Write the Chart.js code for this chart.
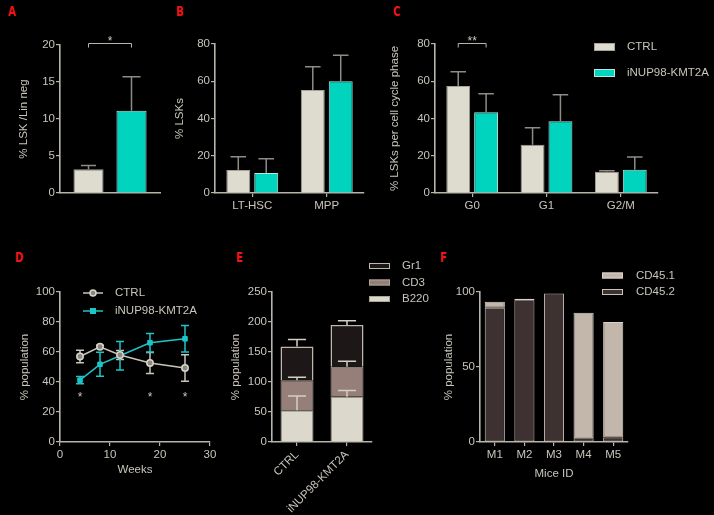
<!DOCTYPE html>
<html>
<head>
<meta charset="utf-8">
<script src="https://cdn.jsdelivr.net/npm/chart.js@4"></script>
<style>
  html, body { margin: 0; padding: 0; background: #000; }
  #fig { position: relative; width: 714px; height: 515px; background: #000; overflow: hidden; }
  #fig canvas { position: absolute; }
  .tag { position: absolute; color: #f01414; font: bold 14px "DejaVu Sans", sans-serif; line-height: 14px; transform: scaleX(0.72); transform-origin: left top; }
</style>
</head>
<body>
<div id="fig">
  <div class="tag" style="left:8px;top:4px">A</div>
  <div class="tag" style="left:176px;top:4px">B</div>
  <div class="tag" style="left:393px;top:4px">C</div>
  <div class="tag" style="left:15px;top:250px">D</div>
  <div class="tag" style="left:236px;top:250px">E</div>
  <div class="tag" style="left:440px;top:250px">F</div>
</div>
<script>
// A: LSK in Lin neg
const aGroups = ['CTRL', 'iNUP98-KMT2A'];
const aValues = [3.2, 11.1];
const aErrors = [0.5, 4.6];

// B: LSK subsets
const bSubsets = ['LT-HSC', 'MPP'];
const bCtrl = [12.3, 55.3];
const bCtrlErr = [7.2, 12.5];
const bNup = [10.7, 60.0];
const bNupErr = [7.7, 13.9];

// C: cell cycle
const cPhases = ['G0', 'G1', 'G2/M'];
const cCtrl = [57.4, 25.9, 11.4];
const cCtrlErr = [7.7, 9.2, 0.6];
const cNup = [43.3, 38.5, 12.5];
const cNupErr = [10.0, 14.3, 6.8];

// D: time course
const dWeeks = [4, 8, 12, 18, 25];
const dCtrl = [57.0, 63.5, 58.0, 52.7, 49.3];
const dCtrlErr = [4.2, 1.0, 3.0, 7.0, 8.8];
const dNup = [41.2, 51.8, 57.5, 66.2, 68.8];
const dNupErr = [2.4, 8.0, 9.5, 6.2, 8.8];
const dStarWeeks = [4, 18, 25];
const dStarLevel = 32;

// E: lineages
const eGroups = ['CTRL', 'iNUP98-KMT2A'];
const eB220 = [53, 75.5];
const eB220Err = [23.5, 10.5];
const eCD3 = [50, 50];
const eCD3Err = [5, 9];
const eGr1 = [56, 69.5];
const eGr1Err = [12, 7];

// F: chimerism
const fMice = ['M1', 'M2', 'M3', 'M4', 'M5'];
const fCD452 = [89.5, 94.5, 99, 2.5, 3];
const fCD451 = [4, 1, 0, 83.7, 77];

const FONT = '"Liberation Sans", Arial, sans-serif';
const TXT = '#c9c5bb';
const AXIS = '#b8b4aa';
const ERR = '#8f8c85';
const CTRL_FILL = '#dedbcf', CTRL_LINE = '#a5a39b';
const NUP_FILL = '#00d3be', NUP_LINE = '#b7e9e2';

Chart.defaults.font.family = FONT;
Chart.defaults.font.size = 11.5;
Chart.defaults.color = TXT;

function makeCanvas(box) {
  const c = document.createElement('canvas');
  c.width = box.w; c.height = box.h;
  c.style.left = box.x + 'px'; c.style.top = box.y + 'px';
  document.getElementById('fig').appendChild(c);
  return c;
}

function panel(box, area, cfg) {
  const canvas = makeCanvas(box);
  const o = cfg.options;
  o.responsive = false;
  o.animation = false;
  o.layout = { padding: { top: area.t - box.y, right: box.x + box.w - area.r, left: 0, bottom: 0 } };
  o.plugins = { legend: { display: false }, tooltip: { enabled: false } };
  o.scales.x.afterFit = s => { s.height = box.y + box.h - area.b; };
  o.scales.y.afterFit = s => { s.width = area.l - box.x; };
  return new Chart(canvas, cfg);
}

function yScale(max, step, title, pad) {
  return {
    min: 0, max: max,
    ticks: { stepSize: step, padding: 1, color: TXT },
    grid: { drawOnChartArea: false, drawTicks: true, tickLength: 4, color: AXIS, lineWidth: 1.2 },
    border: { color: AXIS, width: 1.6 },
    title: { display: true, text: title, color: TXT, font: { size: 11.5 }, padding: { top: pad, bottom: 0 } }
  };
}

function xCat(extra) {
  return Object.assign({
    ticks: { padding: 2, color: TXT, autoSkip: false },
    grid: { drawOnChartArea: false, drawTicks: true, tickLength: 4, color: AXIS, offset: false, lineWidth: 1.2 },
    border: { color: AXIS, width: 1.6 }
  }, extra || {});
}

// upper error bars on bars; base gives the stacked top if needed
function barErrors(specs) {
  return {
    id: 'barErrors',
    afterDatasetsDraw(chart) {
      const ctx = chart.ctx, y = chart.scales.y;
      specs.forEach(sp => {
        const meta = chart.getDatasetMeta(sp.ds);
        meta.data.forEach((bar, i) => {
          const base = sp.base ? sp.base[i] : chart.data.datasets[sp.ds].data[i];
          const top = y.getPixelForValue(base + sp.err[i]);
          const from = y.getPixelForValue(base);
          const cap = bar.width * sp.cap;
          ctx.save();
          ctx.strokeStyle = sp.color; ctx.lineWidth = 1.5;
          ctx.beginPath();
          ctx.moveTo(bar.x, from); ctx.lineTo(bar.x, top);
          ctx.moveTo(bar.x - cap / 2, top); ctx.lineTo(bar.x + cap / 2, top);
          ctx.stroke();
          ctx.restore();
        });
      });
    }
  };
}

function star(ctx, x, cy, text) {
  ctx.fillStyle = TXT;
  ctx.font = '12px ' + FONT;
  ctx.textAlign = 'center';
  ctx.textBaseline = 'alphabetic';
  ctx.fillText(text, x, cy + 6.6);
}

function bracket(dsA, dsB, index, value, text) {
  return {
    id: 'bracket',
    afterDraw(chart) {
      const ctx = chart.ctx, y = chart.scales.y;
      const x1 = chart.getDatasetMeta(dsA).data[index].x;
      const x2 = chart.getDatasetMeta(dsB).data[index].x;
      const py = Math.round(y.getPixelForValue(value)) + 0.5;
      ctx.save();
      ctx.strokeStyle = AXIS; ctx.lineWidth = 1;
      ctx.beginPath();
      ctx.moveTo(x1, py + 4); ctx.lineTo(x1, py); ctx.lineTo(x2, py); ctx.lineTo(x2, py + 4);
      ctx.stroke();
      star(ctx, (x1 + x2) / 2, py - 5, text);
      ctx.restore();
    }
  };
}

function boxLegend(box, items) {
  return {
    id: 'boxLegend',
    afterDraw(chart) {
      const ctx = chart.ctx;
      items.forEach(it => {
        const ds = chart.data.datasets[it.ds];
        const bx = it.x - box.x, by = it.y - box.y - it.h / 2;
        ctx.save();
        ctx.fillStyle = ds.backgroundColor;
        ctx.fillRect(bx, by, it.w, it.h);
        ctx.strokeStyle = ds.borderColor; ctx.lineWidth = 1;
        ctx.strokeRect(bx + 0.5, by + 0.5, it.w - 1, it.h - 1);
        ctx.fillStyle = TXT; ctx.font = '11.5px ' + FONT;
        ctx.textAlign = 'left'; ctx.textBaseline = 'middle';
        ctx.fillText(ds.label, it.tx - box.x, it.y - box.y);
        ctx.restore();
      });
    }
  };
}

// ---------- A ----------
const boxA = { x: 0, y: 0, w: 180, h: 240 };
panel(boxA, { l: 60, t: 45, r: 160, b: 193 }, {
  type: 'bar',
  data: {
    labels: [''],
    datasets: aGroups.map((g, i) => ({
      label: g, data: [aValues[i]],
      backgroundColor: i ? NUP_FILL : CTRL_FILL, borderColor: i ? NUP_LINE : CTRL_LINE,
      borderWidth: 1, categoryPercentage: 0.86, barPercentage: 0.7
    }))
  },
  options: {
    scales: {
      x: { ticks: { display: false }, grid: { display: false }, border: { color: AXIS, width: 1.6 } },
      y: yScale(20, 5, '% LSK /Lin neg', 17.1)
    }
  },
  plugins: [
    barErrors([{ ds: 0, err: [aErrors[0]], color: ERR, cap: 0.5 }, { ds: 1, err: [aErrors[1]], color: ERR, cap: 0.6 }]),
    bracket(0, 1, 0, 20.3, '*')
  ]
});

// ---------- B ----------
const boxB = { x: 170, y: 0, w: 200, h: 240 };
panel(boxB, { l: 215, t: 44, r: 364, b: 193 }, {
  type: 'bar',
  data: {
    labels: bSubsets,
    datasets: [
      { label: 'CTRL', data: bCtrl, backgroundColor: CTRL_FILL, borderColor: CTRL_LINE, borderWidth: 1, categoryPercentage: 0.75, barPercentage: 0.857 },
      { label: 'iNUP98-KMT2A', data: bNup, backgroundColor: NUP_FILL, borderColor: NUP_LINE, borderWidth: 1, categoryPercentage: 0.75, barPercentage: 0.857 }
    ]
  },
  options: { scales: { x: xCat(), y: yScale(80, 20, '% LSKs', 3.1) } },
  plugins: [barErrors([{ ds: 0, err: bCtrlErr, color: ERR, cap: 0.65 }, { ds: 1, err: bNupErr, color: ERR, cap: 0.65 }])]
});

// ---------- C ----------
const boxC = { x: 375, y: 0, w: 339, h: 240 };
panel(boxC, { l: 435, t: 44, r: 658, b: 193 }, {
  type: 'bar',
  data: {
    labels: cPhases,
    datasets: [
      { label: 'CTRL', data: cCtrl, backgroundColor: CTRL_FILL, borderColor: CTRL_LINE, borderWidth: 1, categoryPercentage: 0.75, barPercentage: 0.857 },
      { label: 'iNUP98-KMT2A', data: cNup, backgroundColor: NUP_FILL, borderColor: NUP_LINE, borderWidth: 1, categoryPercentage: 0.75, barPercentage: 0.857 }
    ]
  },
  options: { scales: { x: xCat(), y: yScale(80, 20, '% LSKs per cell cycle phase', 13.1) } },
  plugins: [
    barErrors([{ ds: 0, err: cCtrlErr, color: ERR, cap: 0.65 }, { ds: 1, err: cNupErr, color: ERR, cap: 0.65 }]),
    bracket(0, 1, 0, 80.3, '**'),
    boxLegend(boxC, [
      { ds: 0, x: 594, y: 47, w: 21, h: 8, tx: 627 },
      { ds: 1, x: 594, y: 73, w: 21, h: 8, tx: 627 }
    ])
  ]
});

// ---------- D ----------
const boxD = { x: 0, y: 240, w: 250, h: 275 };
const CTRL_LN = '#c9c5bb', NUP_LN = '#1ec4c8';
panel(boxD, { l: 60, t: 292, r: 210, b: 442 }, {
  type: 'line',
  data: {
    datasets: [
      { label: 'CTRL', data: dWeeks.map((w, i) => ({ x: w, y: dCtrl[i] })), borderColor: CTRL_LN, borderWidth: 1.5,
        pointStyle: 'circle', pointRadius: 3.2, pointBackgroundColor: '#8a877f', pointBorderColor: '#d8d4ca', pointBorderWidth: 1.5, tension: 0 },
      { label: 'iNUP98-KMT2A', data: dWeeks.map((w, i) => ({ x: w, y: dNup[i] })), borderColor: NUP_LN, borderWidth: 1.5,
        pointStyle: 'rect', pointRadius: 3.2, pointBackgroundColor: NUP_LN, pointBorderColor: NUP_LN, pointBorderWidth: 1, tension: 0 }
    ]
  },
  options: {
    scales: {
      x: {
        type: 'linear', min: 0, max: 30,
        ticks: { stepSize: 10, padding: 2, color: TXT },
        grid: { drawOnChartArea: false, drawTicks: true, tickLength: 4, color: AXIS, lineWidth: 1.2 },
        border: { color: AXIS, width: 1.6 },
        title: { display: true, text: 'Weeks', color: TXT, font: { size: 11.5 }, padding: { top: 0, bottom: 38.1 } }
      },
      y: yScale(100, 20, '% population', 18.1)
    }
  },
  plugins: [{
    id: 'lineErrors',
    beforeDatasetsDraw(chart) {
      const ctx = chart.ctx, y = chart.scales.y;
      [[0, dCtrl, dCtrlErr, CTRL_LN], [1, dNup, dNupErr, NUP_LN]].forEach(([ds, vals, errs, col]) => {
        chart.getDatasetMeta(ds).data.forEach((pt, i) => {
          const hi = y.getPixelForValue(vals[i] + errs[i]);
          const lo = y.getPixelForValue(vals[i] - errs[i]);
          ctx.save();
          ctx.strokeStyle = col; ctx.lineWidth = 1.5;
          ctx.beginPath();
          ctx.moveTo(pt.x, hi); ctx.lineTo(pt.x, lo);
          ctx.moveTo(pt.x - 4, hi); ctx.lineTo(pt.x + 4, hi);
          ctx.moveTo(pt.x - 4, lo); ctx.lineTo(pt.x + 4, lo);
          ctx.stroke();
          ctx.restore();
        });
      });
    },
    afterDraw(chart) {
      const ctx = chart.ctx, x = chart.scales.x, y = chart.scales.y;
      ctx.save();
      dStarWeeks.forEach(w => star(ctx, x.getPixelForValue(w), y.getPixelForValue(dStarLevel), '*'));
      // legend
      [[0, 293], [1, 311]].forEach(([ds, py]) => {
        const d = chart.data.datasets[ds];
        const ly = py - boxD.y;
        ctx.strokeStyle = d.borderColor; ctx.lineWidth = 1.5;
        ctx.beginPath(); ctx.moveTo(83, ly); ctx.lineTo(103, ly); ctx.stroke();
        if (d.pointStyle === 'rect') {
          ctx.fillStyle = d.pointBackgroundColor; ctx.fillRect(90, ly - 3, 6, 6);
        } else {
          ctx.fillStyle = d.pointBackgroundColor; ctx.strokeStyle = d.pointBorderColor;
          ctx.beginPath(); ctx.arc(93, ly, 3, 0, Math.PI * 2); ctx.fill(); ctx.stroke();
        }
        ctx.fillStyle = TXT; ctx.font = '11.5px ' + FONT;
        ctx.textAlign = 'left'; ctx.textBaseline = 'middle';
        ctx.fillText(d.label, 115, ly);
      });
      ctx.restore();
    }
  }]
});

// ---------- E ----------
const boxE = { x: 225, y: 240, w: 215, h: 275 };
const eStack1 = eB220.map((v, i) => v + eCD3[i]);
const eStack2 = eStack1.map((v, i) => v + eGr1[i]);
panel(boxE, { l: 272, t: 292, r: 372, b: 442 }, {
  type: 'bar',
  data: {
    labels: eGroups,
    datasets: [
      { label: 'B220', data: eB220, backgroundColor: '#dcd8cb', borderColor: '#a9a59b', borderWidth: 1, categoryPercentage: 1, barPercentage: 0.66 },
      { label: 'CD3', data: eCD3, backgroundColor: '#957f78', borderColor: '#a9a59b', borderWidth: 1, categoryPercentage: 1, barPercentage: 0.66 },
      { label: 'Gr1', data: eGr1, backgroundColor: '#1d1717', borderColor: '#bdb8ad', borderWidth: 1.5, categoryPercentage: 1, barPercentage: 0.66 }
    ]
  },
  options: {
    scales: {
      x: xCat({ stacked: true, ticks: { padding: 2, color: TXT, autoSkip: false, minRotation: 45, maxRotation: 45 } }),
      y: Object.assign(yScale(250, 50, '% population', 3.6), { stacked: true })
    }
  },
  plugins: [
    barErrors([
      { ds: 0, err: eB220Err, base: eB220, color: '#d3cfc4', cap: 0.55 },
      { ds: 1, err: eCD3Err, base: eStack1, color: '#d3cfc4', cap: 0.55 },
      { ds: 2, err: eGr1Err, base: eStack2, color: '#d3cfc4', cap: 0.55 }
    ]),
    boxLegend(boxE, [
      { ds: 2, x: 369, y: 266, w: 21, h: 6, tx: 402 },
      { ds: 1, x: 369, y: 282.5, w: 21, h: 6, tx: 402 },
      { ds: 0, x: 369, y: 299, w: 21, h: 6, tx: 402 }
    ])
  ]
});

// ---------- F ----------
const boxF = { x: 440, y: 240, w: 274, h: 275 };
panel(boxF, { l: 480, t: 292, r: 628, b: 442 }, {
  type: 'bar',
  data: {
    labels: fMice,
    datasets: [
      { label: 'CD45.2', data: fCD452, backgroundColor: '#3e3131', borderColor: '#c9c2b9', borderWidth: 1, borderSkipped: false, categoryPercentage: 1, barPercentage: 0.68 },
      { label: 'CD45.1', data: fCD451, backgroundColor: '#c3b6ab', borderColor: '#d9d2c9', borderWidth: 1, borderSkipped: false, categoryPercentage: 1, barPercentage: 0.68 }
    ]
  },
  options: {
    scales: {
      x: xCat({ stacked: true, title: { display: true, text: 'Mice ID', color: TXT, font: { size: 11.5 }, padding: { top: 0, bottom: 34.1 } } }),
      y: Object.assign(yScale(100, 50, '% population', 2.1), { stacked: true })
    }
  },
  plugins: [boxLegend(boxF, [
    { ds: 1, x: 602, y: 275.5, w: 21, h: 6, tx: 636 },
    { ds: 0, x: 602, y: 292, w: 21, h: 6, tx: 636 }
  ])]
});
</script>
</body>
</html>
